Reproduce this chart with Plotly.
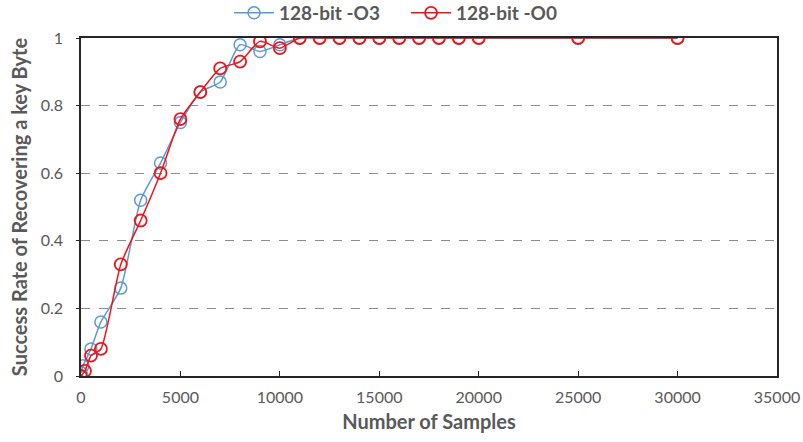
import plotly.graph_objects as go

# Success rate of recovering one key byte vs. number of traces
samples_o3 = [0, 100, 500, 1000, 2000, 3000, 4000, 5000, 6000, 7000, 8000, 9000, 10000,
              11000, 12000, 13000, 14000, 15000, 16000, 17000, 18000, 19000, 20000, 25000, 30000]
rate_o3 = [0.01, 0.03, 0.08, 0.16, 0.26, 0.52, 0.63, 0.75, 0.84, 0.87, 0.98, 0.96, 0.98,
           1, 1, 1, 1, 1, 1, 1, 1, 1, 1, 1, 1]

samples_o0 = [0, 200, 500, 1000, 2000, 3000, 4000, 5000, 6000, 7000, 8000, 9000, 10000,
              11000, 12000, 13000, 14000, 15000, 16000, 17000, 18000, 19000, 20000, 25000, 30000]
rate_o0 = [0.0, 0.015, 0.06, 0.08, 0.33, 0.46, 0.60, 0.76, 0.84, 0.91, 0.93, 0.99, 0.97,
           1, 1, 1, 1, 1, 1, 1, 1, 1, 1, 1, 1]

x_ticks = [0, 5000, 10000, 15000, 20000, 25000, 30000, 35000]
y_ticks = [0, 0.2, 0.4, 0.6, 0.8, 1]

BLUE = "#5B9BD5"
RED = "#F01418"
GRAY = "#595959"
FONT = "Lato, Open Sans, sans-serif"

fig = go.Figure()
fig.add_trace(go.Scatter(
    x=samples_o3, y=rate_o3, name="128-bit -O3", mode="lines+markers",
    line=dict(color=BLUE, width=1.5, shape="spline", smoothing=0.6),
    marker=dict(symbol="circle-open", size=12, color=BLUE, line=dict(width=1.5)),
))
fig.add_trace(go.Scatter(
    x=samples_o0, y=rate_o0, name="128-bit -O0", mode="lines+markers",
    line=dict(color=RED, width=1.5, shape="spline", smoothing=0.6),
    marker=dict(symbol="circle-open", size=12, color=RED, line=dict(width=1.8)),
))

fig.update_layout(
    width=803, height=442,
    margin=dict(l=81, r=26, t=38, b=66, autoexpand=False),
    paper_bgcolor="white", plot_bgcolor="white",
    font=dict(family=FONT, color=GRAY, size=16),
    showlegend=True,
    legend=dict(orientation="h", x=0.467, xanchor="center", y=1.074, yanchor="middle",
                font=dict(size=19, color=GRAY, family=FONT, weight="bold"),
                itemwidth=40, entrywidth=122, entrywidthmode="pixels",
                tracegroupgap=0, bgcolor="rgba(0,0,0,0)"),
)

fig.update_xaxes(
    range=[0, 35000], tickvals=x_ticks, ticktext=[str(v) for v in x_ticks],
    showgrid=False, zeroline=False,
    showline=True, linecolor="#262626", linewidth=1.5, mirror=True,
    ticks="inside", ticklen=5, tickcolor="#262626",
    ticklabelstandoff=6,
    tickfont=dict(size=16, color=GRAY, family=FONT),
    title=dict(text="Number of Samples", standoff=10,
               font=dict(size=20, color=GRAY, family=FONT, weight="bold")),
)
fig.update_yaxes(
    range=[0, 1], tickvals=y_ticks, ticktext=["0", "0.2", "0.4", "0.6", "0.8", "1"],
    showgrid=True, gridcolor="#8C8C8C", griddash="dash", gridwidth=1,
    zeroline=False,
    showline=True, linecolor="#262626", linewidth=1.5, mirror=True,
    ticks="outside", ticklen=3, tickcolor="#262626",
    ticklabelstandoff=10,
    tickfont=dict(size=16, color=GRAY, family=FONT),
    title=dict(text="Success Rate of Recovering a key Byte", standoff=8,
               font=dict(size=20, color=GRAY, family=FONT, weight="bold")),
)

fig.write_html("out.html")
